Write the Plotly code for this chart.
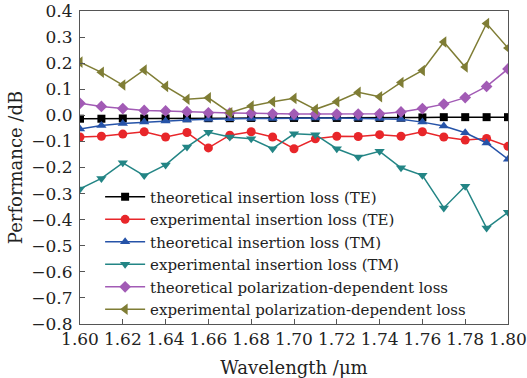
import plotly.graph_objects as go

wavelength = [1.60, 1.61, 1.62, 1.63, 1.64, 1.65, 1.66, 1.67, 1.68, 1.69, 1.70,
              1.71, 1.72, 1.73, 1.74, 1.75, 1.76, 1.77, 1.78, 1.79, 1.80]

theo_il_te = [-0.013, -0.013, -0.012, -0.012, -0.012, -0.011, -0.011, -0.011, -0.010, -0.010, -0.010,
              -0.010, -0.010, -0.010, -0.010, -0.009, -0.008, -0.007, -0.007, -0.007, -0.007]
exp_il_te = [-0.083, -0.080, -0.072, -0.063, -0.083, -0.066, -0.125, -0.076, -0.063, -0.083, -0.128,
             -0.090, -0.080, -0.081, -0.074, -0.080, -0.063, -0.083, -0.095, -0.089, -0.119]
theo_il_tm = [-0.052, -0.039, -0.031, -0.026, -0.022, -0.018, -0.015, -0.013, -0.012, -0.012, -0.010,
              -0.010, -0.010, -0.011, -0.012, -0.015, -0.026, -0.041, -0.067, -0.106, -0.168]
exp_il_tm = [-0.282, -0.242, -0.182, -0.231, -0.190, -0.121, -0.065, -0.083, -0.090, -0.128, -0.071,
             -0.074, -0.128, -0.160, -0.138, -0.201, -0.230, -0.355, -0.272, -0.432, -0.372]
theo_pdl = [0.046, 0.034, 0.026, 0.019, 0.017, 0.014, 0.010, 0.009, 0.008, 0.006, 0.005,
            0.005, 0.005, 0.005, 0.006, 0.013, 0.026, 0.043, 0.068, 0.111, 0.178]
exp_pdl = [0.204, 0.165, 0.116, 0.174, 0.111, 0.062, 0.067, 0.010, 0.036, 0.052, 0.065,
           0.023, 0.052, 0.088, 0.071, 0.126, 0.172, 0.281, 0.185, 0.352, 0.258]

x_ticks = [1.60, 1.62, 1.64, 1.66, 1.68, 1.70, 1.72, 1.74, 1.76, 1.78, 1.80]
y_ticks = [0.4, 0.3, 0.2, 0.1, 0.0, -0.1, -0.2, -0.3, -0.4, -0.5, -0.6, -0.7, -0.8]

series = [
    ("theoretical insertion loss (TE)", theo_il_te, "#000000", "square", 8),
    ("experimental insertion loss (TE)", exp_il_te, "#e8262a", "circle", 9),
    ("theoretical insertion loss (TM)", theo_il_tm, "#2653a8", "triangle-up", 9),
    ("experimental insertion loss (TM)", exp_il_tm, "#238585", "triangle-down", 9),
    ("theoretical polarization-dependent loss", theo_pdl, "#a25bb5", "diamond", 9),
    ("experimental polarization-dependent loss", exp_pdl, "#7f7d35", "triangle-left", 10),
]

fig = go.Figure()
for name, vals, color, sym, size in series:
    fig.add_trace(go.Scatter(
        x=wavelength, y=vals, name=name, mode="lines+markers",
        line=dict(color=color, width=1.5),
        marker=dict(symbol=sym, size=size, color=color),
    ))

font_family = "DejaVu Serif"
fig.update_layout(
    width=527, height=378,
    margin=dict(l=80, r=19, t=11, b=54),
    paper_bgcolor="white", plot_bgcolor="white",
    font=dict(family=font_family, size=15, color="#222222"),
    showlegend=True,
    legend=dict(x=0.047, y=-0.005, xanchor="left", yanchor="bottom",
                bgcolor="rgba(0,0,0,0)", font=dict(size=15, family=font_family),
                itemwidth=40, tracegroupgap=0),
    xaxis=dict(range=[1.60, 1.80], tickvals=x_ticks,
               ticktext=[f"{v:.2f}" for v in x_ticks], automargin=False,
               tickfont=dict(size=17),
               ticks="inside", ticklen=5, tickcolor="#555", showline=True,
               linecolor="#555", linewidth=1, mirror=True, showgrid=False, zeroline=False,
               title=dict(text="Wavelength /μm", standoff=12)),
    yaxis=dict(range=[-0.8, 0.4], tickvals=y_ticks,
               ticktext=[("−" if v < 0 else "") + f"{abs(v):.1f}" for v in y_ticks],
               automargin=False, tickfont=dict(size=17), ticklabelstandoff=3,
               ticks="inside", ticklen=5, tickcolor="#555", showline=True,
               linecolor="#555", linewidth=1, mirror=True, showgrid=False, zeroline=False,
               title=dict(text="Performance /dB", standoff=4)),
)

fig.write_html("out.html")
